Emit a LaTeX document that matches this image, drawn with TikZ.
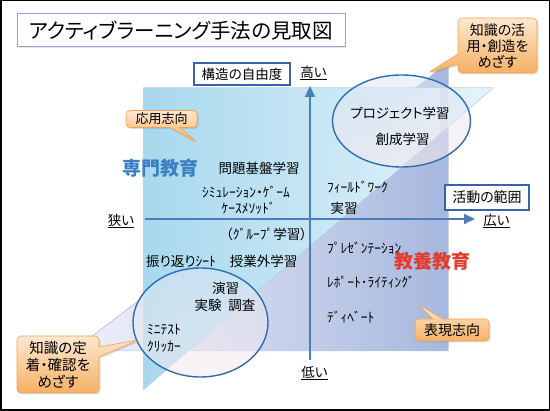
\documentclass[tikz,border=0pt]{standalone}
\usepackage{fontspec}
\setmainfont{Noto Sans CJK JP}[RawFeature=+palt]
\usepackage{tikz}
\usetikzlibrary{positioning,arrows.meta,shapes.geometric,shapes.callouts,shadows}
\definecolor{cAxis}{HTML}{4A7DBA}
\definecolor{cOval}{HTML}{2E6DB4}
\definecolor{cLtL}{HTML}{A8D8EE}
\definecolor{cLtR}{HTML}{E6F4FB}
\definecolor{cDkL}{HTML}{F2F0FA}
\definecolor{cDkR}{HTML}{A6B8DE}
\definecolor{cCallT}{HTML}{FDE8D0}
\definecolor{cCallB}{HTML}{F6B064}
\definecolor{cCallD}{HTML}{EFA354}
\definecolor{cSenmon}{HTML}{3B80C3}
\definecolor{cKyoyo}{HTML}{E33B2E}
\definecolor{cTitle}{HTML}{8FA8D4}
\definecolor{cBoxD}{HTML}{3564A8}
\newcommand{\fs}[1]{\fontsize{#1}{#1}\selectfont}
\tikzset{
  blk/.style={draw=cBoxD, line width=1.2pt, fill=white, inner sep=0pt,
              font=\fs{13.5}},
  txt/.style={font=\fs{13.5}, inner sep=0pt},
  ax/.style={font=\fs{13.5}, inner sep=0pt},
  big/.style={font=\fs{19}\bfseries, inner sep=0pt},
  ovl/.style={ellipse, draw=cOval, line width=1.4pt, inner sep=0pt,
              top color=#1, bottom color=#1!40!pink!45!white, fill opacity=0.55},
  bub/.style={rectangle callout, rounded corners=4pt, draw=cCallD, line width=0.6pt,
              top color=cCallT, bottom color=cCallB, align=center, inner sep=2pt,
              callout pointer width=10pt,
              drop shadow={opacity=0.25, shadow xshift=1.5pt, shadow yshift=-1.5pt}},
  ar/.style={draw=cAxis, line width=1.8pt, -{Triangle[length=11pt,width=10pt]}}
}

\begin{document}
\begin{tikzpicture}[x=1pt,y=-1pt]
\useasboundingbox (0,0) rectangle (550,411);
\draw[black, line width=1.5pt] (0.75,0.75) rectangle (549.25,410.25);

% two regions
\fill[left color=cDkL, right color=cDkR]
  (73,351) -- (448,63) -- (448,351) -- cycle;
\draw[cDkR!80, line width=0.5pt] (73,351) -- (448,63) -- (448,351) -- cycle;
\fill[left color=cLtL, right color=cLtR]
  (143,88) -- (493,88) -- (143,390) -- cycle;
\draw[cLtL!80, line width=0.5pt] (143,88) -- (493,88) -- (143,390) -- cycle;
% dark band seen through the upper region
\fill[cDkR, opacity=0.25] (440,88) -- (448,88) -- (448,126) -- (440,133) -- cycle;

% axes
\coordinate (xL) at (145,219); \coordinate (xR) at (475,219);
\coordinate (yB) at (310,360); \coordinate (yT) at (310,86);
\draw[ar] (xL) -- (xR);
\draw[ar] (yB) -- (yT);

% ovals
\node[ovl=cLtL!30!cDkR!40!white, minimum width=138pt, minimum height=92pt] (ovTop) at (401.5,121) {};
\node[ovl=cLtL!30!cDkR!40!white, minimum width=135pt, minimum height=109pt] (ovBot) at (200.5,322.5) {};

% title and axis boxes
\node[draw=cTitle, line width=1pt, fill=white, minimum width=328pt, minimum height=33pt,
      drop shadow={opacity=0.2, shadow xshift=1pt, shadow yshift=-1pt},
      font=\fs{20.5}] (title) at (181,30.5) {アクティブラーニング手法の見取図};
\node[blk, minimum width=96pt, minimum height=22pt] (free) at (242,74) {構造の自由度};
\node[blk, minimum width=84pt, minimum height=25pt, font=\fs{14}] (range) at (487,197.5) {活動の範囲};

\node[ax] (hi) at (313.5,73) {\underline{高い}};
\node[ax] (lo) at (314.5,373) {\underline{低い}};
\node[ax] (nar) at (121,221) {\underline{狭い}};
\node[ax] (wid) at (496.5,221) {\underline{広い}};

% group labels
\node[big, text=cSenmon] (senmon) at (160.5,168) {専門教育};
\node[big, text=cKyoyo] (kyoyo) at (432,261) {教養教育};

% methods
\node[txt] (pbl)   at (259,168)   {問題基盤学習};
\node[txt] (sim)   at (246,192)   {ｼﾐｭﾚｰｼｮﾝ・ｹﾞｰﾑ};
\node[txt] (case)  at (248.5,208) {ｹｰｽﾒｿｯﾄﾞ};
\node[txt] (grp)   at (266.5,234) {（ｸﾞﾙｰﾌﾟ学習）};
\node[txt] (refl)  at (181,261)   {振り返りｼｰﾄ};
\node[txt] (extra) at (263.5,261) {授業外学習};
\node[txt] (ensh)  at (225.5,288) {演習};
\node[txt] (jikk)  at (225,305)   {実験\hspace{7pt}調査};
\node[txt, anchor=west] (mini)  at (147,330) {ﾐﾆﾃｽﾄ};
\node[txt, anchor=west] (click) at (147,347) {ｸﾘｯｶｰ};
\node[txt] (proj)  at (400,113)   {プロジェクト学習};
\node[txt] (sosei) at (402.5,139) {創成学習};
\node[txt, anchor=west] (field) at (327,187) {ﾌｨｰﾙﾄﾞﾜｰｸ};
\node[txt] (jissh) at (344,208)   {実習};
\node[txt, anchor=west] (pres) at (327,248) {ﾌﾟﾚｾﾞﾝﾃｰｼｮﾝ};
\node[txt, anchor=west] (rep)  at (327,282) {ﾚﾎﾟｰﾄ･ﾗｲﾃｨﾝｸﾞ};
\node[txt, anchor=west] (deb)  at (327,317) {ﾃﾞｨﾍﾞｰﾄ};

% callouts
\coordinate (tipOyo) at (197,142);
\coordinate (tipHyo) at (418,304);
\coordinate (tipKat) at (428,73);
\coordinate (tipTei) at (138,340);
\node[bub, callout absolute pointer=(tipOyo), minimum width=71pt, minimum height=17pt,
      font=\fs{13}] (oyo) at (161.5,119) {応用志向};
\node[bub, callout absolute pointer=(tipHyo), minimum width=74pt, minimum height=22pt,
      font=\fs{14}] (hyo) at (452,330) {表現志向};
\node[bub, callout absolute pointer=(tipKat), minimum width=79pt, minimum height=55pt,
      font=\fontsize{14}{16}\selectfont] (katsu) at (497.5,45.5) {知識の活\\用・創造を\\めざす};
\node[bub, callout absolute pointer=(tipTei), minimum width=82pt, minimum height=57pt,
      font=\fontsize{14.5}{17}\selectfont] (teich) at (58,364.5) {知識の定\\着・確認を\\めざす};
\end{tikzpicture}
\end{document}
